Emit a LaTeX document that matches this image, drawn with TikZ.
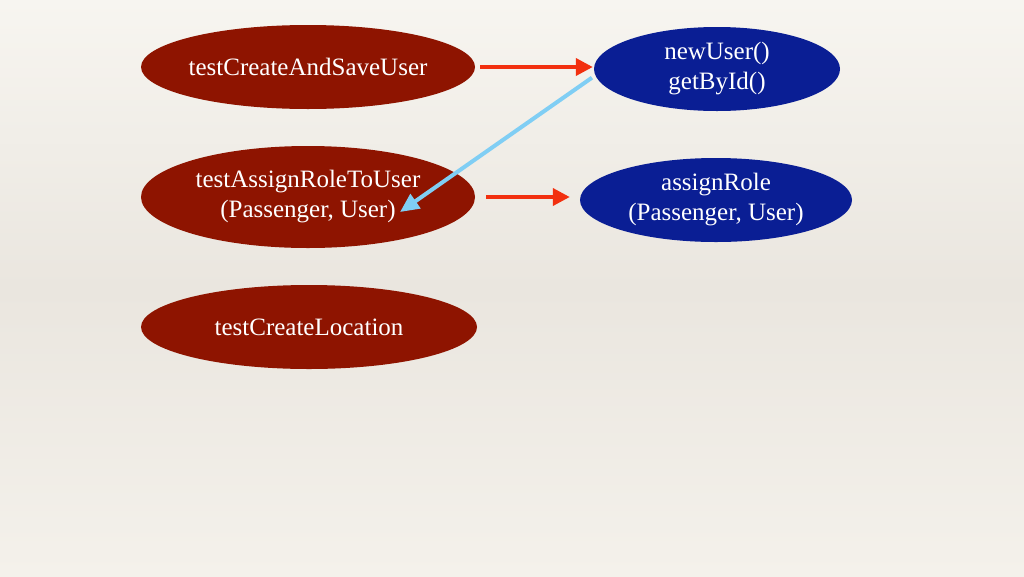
\documentclass[tikz,border=0pt]{standalone}
\usepackage{fontspec}
\setmainfont{Liberation Serif}
\usetikzlibrary{arrows.meta,calc,shapes.geometric}
\definecolor{oxred}{HTML}{8E1400}
\definecolor{deepblue}{HTML}{0A1E94}
\definecolor{arrowred}{HTML}{F2300F}
\definecolor{skyblue}{HTML}{80CEF4}
\definecolor{papertop}{HTML}{F7F5F0}
\definecolor{papermid}{HTML}{EAE6DF}
\definecolor{paperbottom}{HTML}{F4F1EB}
\tikzset{
  testcase/.style={ellipse, fill=oxred, text=white, inner xsep=-40pt, inner ysep=0pt,
    font=\fontsize{25}{30}\selectfont, align=center},
  method/.style={testcase, fill=deepblue},
  callarrow/.style={line width=3.8pt, color=arrowred, -{Triangle[length=17pt,width=17pt]}},
  backarrow/.style={line width=4pt, color=skyblue, -{Triangle[length=19pt,width=17pt]}}
}
\begin{document}
\begin{tikzpicture}[x=1pt,y=-1pt]
			%%%%% START %%%%%
			
			\fill[top color=papertop, bottom color=paperbottom, middle color=papermid] (0,0) rectangle (1024,576);
			\useasboundingbox (0,0) rectangle (1024,576);
			
			\node[testcase, minimum width=334pt, minimum height=84pt] (createsave) at (308,67) {testCreateAndSaveUser};
			\node[testcase, minimum width=334pt, minimum height=102pt] (assign) at (308,197) {testAssignRoleToUser\\(Passenger, User)};
			\node[testcase, minimum width=336pt, minimum height=84pt] (location) at (309,327) {testCreateLocation};
			
			\node[method, minimum width=246pt, minimum height=84pt] (newuser) at (717,69) {newUser()\\getById()};
			\node[method, minimum width=272pt, minimum height=84pt] (assignrole) at (716,200) {assignRole\\(Passenger, User)};
			
			\draw[callarrow, shorten <=5pt, shorten >=1pt] (createsave.east) -- (createsave.east -| newuser.west);
			\draw[callarrow, shorten <=11pt, shorten >=10pt] (assign.east) -- (assign.east -| assignrole.west);
			
			\coordinate (roleend) at ($(assign.center)+(92,15)$);
			\draw[backarrow, shorten <=4pt] (newuser.183) -- (roleend);
			
			%%%%% END %%%%%
\end{tikzpicture}
\end{document}
